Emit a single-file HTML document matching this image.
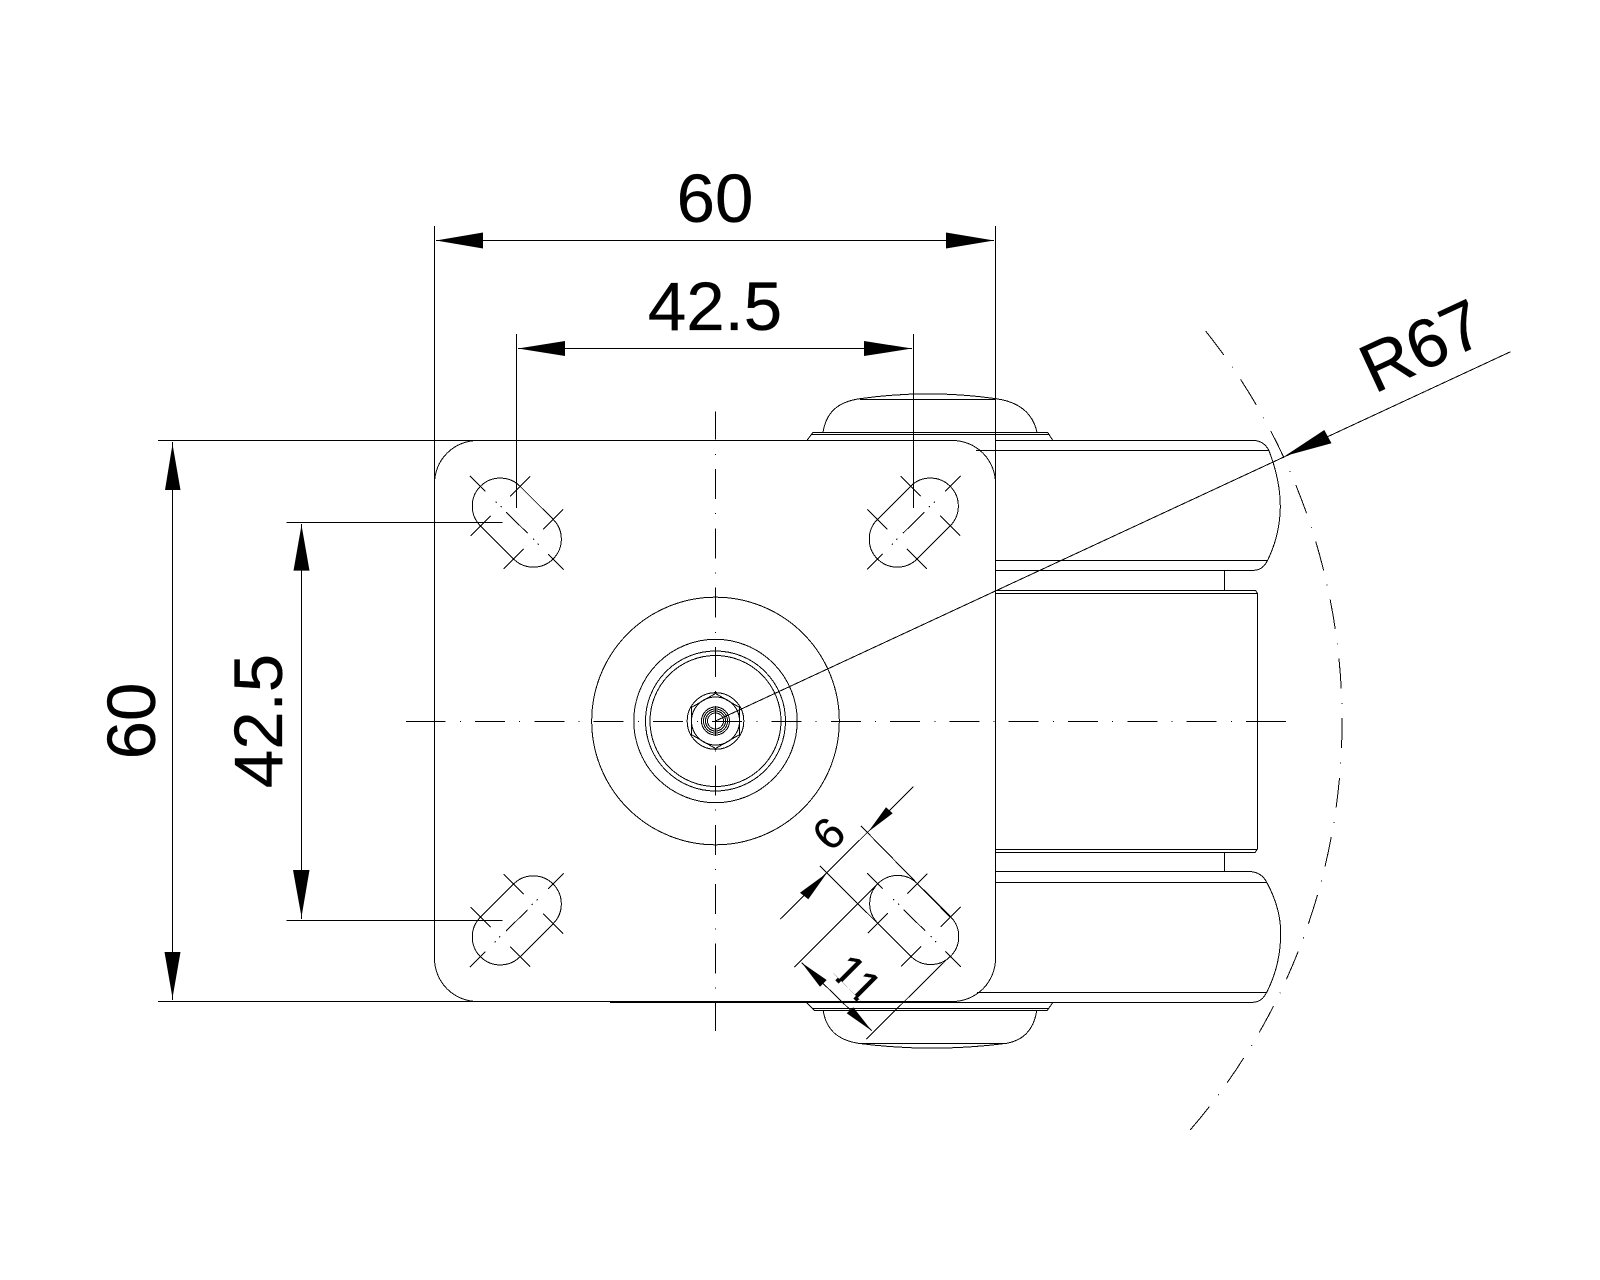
<!DOCTYPE html>
<html lang="en">
<head>
<meta charset="utf-8">
<title>Caster plate drawing</title>
<style>
html,body{margin:0;padding:0;background:#fff}
svg{display:block}
.l{fill:none;stroke:#000;stroke-width:1;shape-rendering:crispEdges}
.c{fill:none;stroke:#000;stroke-width:1;shape-rendering:crispEdges;stroke-dasharray:30 14.15 1 14.15}
.a{fill:#000;stroke:none}
text{font-family:"Liberation Sans",Arial,sans-serif;fill:#000;stroke:#000;stroke-width:.3}
</style>
</head>
<body>
<svg width="1600" height="1280" viewBox="0 0 1600 1280" xmlns="http://www.w3.org/2000/svg">
<defs>
<g id="slot">
<path class="l" d="M3.25-36.35L36.35-3.25A28 28 0 0 1-3.25 36.35L-36.35 3.25A28 28 0 0 1 3.25-36.35Z"/>
<path class="l" d="M-46.85-46.85L-31.35-31.35M31.35 31.35L46.85 46.85M-6.75-26.35L13.25-46.35M26.35 6.75L46.35-13.25M-13.25 46.35L6.75 26.35M-46.35 13.25L-26.35-6.75"/>
<path class="l" d="M-10.7-10.4L10.8 10.6M-21-21l1 1M-16-16.5l1 1M16.5 16l1 1M21 21l1 1"/>
</g>
<clipPath id="nofoot">
<rect x="-40" y="-50" width="80" height="46.5"/>
<rect x="-14.3" y="-4" width="4.6" height="6"/>
<rect x="11.3" y="-4" width="4.6" height="6"/>
</clipPath>
</defs>

<!-- plate -->
<rect class="l" x="434.5" y="440.5" width="561" height="561" rx="43" ry="43"/>
<path class="l" d="M610 1002.5H958"/>

<!-- slots -->
<use href="#slot" transform="translate(516.8,522.6)"/>
<use href="#slot" transform="translate(914.2,920)"/>
<use href="#slot" transform="translate(913.8,522.6) scale(-1,1)"/>
<use href="#slot" transform="translate(516.8,920.4) scale(-1,1)"/>

<!-- centre lines -->
<path class="c" stroke-dashoffset="2" style="stroke-dashoffset:2" d="M715.5 411.7V1031"/>
<path class="l" d="M406 721.5H445.7M460 721.5h1"/>
<path class="c" d="M475 721.5H1276"/>
<path class="l" d="M1246 721.5H1286"/>

<!-- circles -->
<g class="l">
<circle class="l" cx="715.5" cy="721" r="123.8"/>
<circle class="l" cx="715.5" cy="721" r="81.7"/>
<circle class="l" cx="715.5" cy="721" r="70"/>
<circle class="l" cx="715.5" cy="721" r="65.5"/>
<circle class="l" cx="715.5" cy="721" r="28.3"/>
<circle class="l" cx="715.5" cy="721" r="24"/>
<circle class="l" cx="715.5" cy="721" r="14"/>
<circle class="l" cx="715.5" cy="721" r="12"/>
<circle class="l" cx="715.5" cy="721" r="10"/>
<circle class="l" cx="715.5" cy="721" r="8"/>
<path class="l" d="M715.5 693.5L739.3 707.25V734.75L715.5 748.5L691.7 734.75V707.25Z"/>
</g>

<!-- upper wheel -->
<path class="l" d="M995.5 440.5H1254Q1264 441 1268.8 450.3Q1280.3 480 1280.3 506.7Q1280 535 1267.6 560.3Q1263 570 1254 570.3H995.5"/>
<path class="l" d="M976 450.3H1268.8M995.5 560.3H1267.6"/>
<path class="l" d="M1224.4 570.3V590.3"/>

<!-- lower wheel -->
<path class="l" d="M995.5 871.7H1251.7Q1262 873 1266.7 882.3Q1280.7 908 1280.7 933Q1280.7 965 1266.7 992.3Q1262 1002 1253 1002.3H958"/>
<path class="l" d="M995.5 882.3H1266.7M977 992.3H1266.7"/>
<path class="l" d="M1224.3 852.3V871.7"/>

<!-- middle block -->
<path class="l" d="M995.5 590.3H1255.5L1257.3 593V849.3L1255 852.5H995.5"/>
<path class="l" d="M995.5 593.7H1257.3M995.5 849.5H1257.3"/>

<!-- top bump -->
<path class="l" d="M807 440.3L813 432.3H1047.6L1052.7 440.3"/>
<path class="l" d="M811 434.5H1049.5"/>
<path class="l" d="M823 432.3C826 414 836 402 860 398.7Q928 389 996 398.7C1020 402 1033 414 1037 432.3"/>
<path class="l" d="M860 399.3H996"/>

<!-- bottom bump -->
<path class="l" d="M806.7 1002.7L814.3 1010.3H1047.3L1052.7 1002.7"/>
<path class="l" d="M812 1008.3H1049"/>
<path class="l" d="M823.3 1010.7C826 1030 838 1040 858.3 1043.3Q932 1053 1006.7 1043.3C1025 1040 1034 1028 1036.7 1010.7"/>
<path class="l" d="M858.3 1043.5H1006.7"/>

<!-- R67 arc -->
<path fill="none" stroke="#000" stroke-width="1" shape-rendering="crispEdges" stroke-dasharray="30 14.4 1 14.35" d="M1205.6 331A626 626 0 0 1 1188 1132.5"/>

<!-- dimension 60 top -->
<path class="l" d="M434.5 226V485M995.5 226V485M436 240.5H994"/>
<polygon class="a" points="436,240.5 483,232.5 483,248.5"/>
<polygon class="a" points="994,240.5 946,232.5 946,248.5"/>
<text x="715" y="222" font-size="69" text-anchor="middle">60</text>

<!-- dimension 42.5 top -->
<path class="l" d="M516.5 334V508M913.5 334V508M518 348.5H912"/>
<polygon class="a" points="518,348.5 565,341 565,356"/>
<polygon class="a" points="912,348.5 864,341 864,356"/>
<text x="715" y="330" font-size="69" text-anchor="middle">42.5</text>

<!-- dimension 60 left -->
<path class="l" d="M158 440.5H480M158 1001.5H480M172.5 442V1000"/>
<polygon class="a" points="172.5,444 165,490 180.5,490"/>
<polygon class="a" points="172.5,998 164.5,952 180.5,952"/>
<text transform="translate(155,721) rotate(-90)" font-size="69" text-anchor="middle">60</text>

<!-- dimension 42.5 left -->
<path class="l" d="M286.7 522.5H502.7M286.7 920.5H502.7M301.5 524V919"/>
<polygon class="a" points="301.5,525 293.5,570.6 309.5,570.6"/>
<polygon class="a" points="301.5,917 293,870 309.5,870"/>
<text transform="translate(282,721) rotate(-90)" font-size="69" text-anchor="middle">42.5</text>

<!-- dimension R67 -->
<path class="l" d="M715.5 721L1510.6 351.7"/>
<polygon class="a" points="1284.9,456 1324.3,430 1331.5,443.3"/>
<text transform="translate(1374.3,394) rotate(-24.9)" font-size="69">R67</text>

<!-- dimension 6 -->
<path class="l" d="M780 919.3L913.3 786.7"/>
<path class="l" d="M861 826L950 917M820 866L910.7 956.3"/>
<polygon class="a" points="826.7,873.3 800,892.7 808.3,899.3"/>
<polygon class="a" points="868.3,831.7 886,807.3 892.7,813.3"/>
<text transform="translate(828.3,833.3) rotate(-45)" y="15.7" font-size="44" text-anchor="middle">6</text>

<!-- dimension 11 -->
<path class="l" d="M794.3 967.3L877.7 884M866 1039.3L950 956.3M801.7 962.7L871.7 1030.7"/>
<polygon class="a" points="801.7,962.7 820,986.7 826.7,980"/>
<polygon class="a" points="871.7,1030.7 846.7,1013.3 853.3,1007.3"/>
<text transform="translate(845.5,990.3) rotate(45)" font-size="46" text-anchor="middle" clip-path="url(#nofoot)">11</text>
</svg>
</body>
</html>
